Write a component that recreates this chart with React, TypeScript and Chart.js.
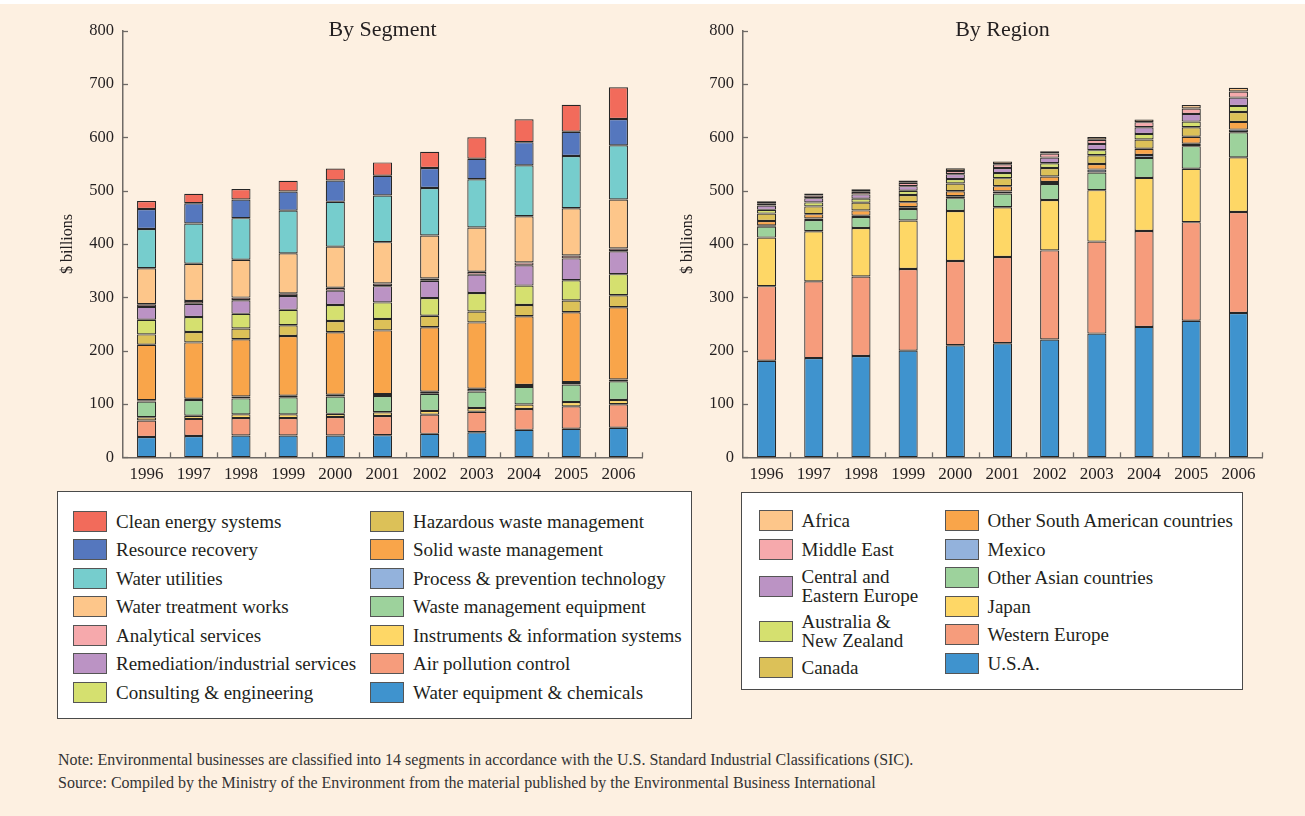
import React, { useEffect, useRef } from "react";
import { Chart, registerables } from "chart.js";
Chart.register(...registerables);

const FONT = '"Liberation Serif", "Times New Roman", serif';
const TEXT = "#231f20";
const AXIS = "#6f6a66";
const BAR_BORDER = "#262626";
const BG = "#fdf0e1";

const years = ["1996", "1997", "1998", "1999", "2000", "2001", "2002", "2003", "2004", "2005", "2006"];
const yTickValues = [0, 100, 200, 300, 400, 500, 600, 700, 800];

// ---- By Segment ($ billions), bottom of stack first ----
const waterEquipment = [38, 40, 41, 41, 41, 41.5, 44, 47, 51.5, 53.5, 55.5];
const airPollution = [31, 32, 32.5, 32.5, 34.5, 36, 36, 38.5, 39, 42, 44];
const instruments = [6, 6, 7, 7, 6, 7, 7, 7, 8.5, 8, 8];
const wasteMgmtEquipment = [29.5, 29.5, 30, 32, 32.5, 30.5, 32, 31, 33, 33, 35];
const processPrevention = [2.5, 2.5, 3.5, 3, 3.5, 3.5, 4, 5, 3.5, 4.5, 3.5];
const solidWaste = [104, 105.5, 107.5, 112, 117, 119.5, 121, 124.5, 129, 131, 135.5];
const hazardousWaste = [19.5, 19.5, 20, 20, 21, 21.5, 21.5, 20.5, 21, 22, 22.5];
const consulting = [27.5, 28, 27.5, 29, 30, 31, 33, 34.5, 36.5, 38, 39.5];
const remediation = [24, 25, 25.5, 26, 27, 30.5, 32.5, 34.5, 38, 41, 43];
const analytical = [5, 5, 5, 5, 5.5, 5, 4.5, 5.5, 5.5, 5.5, 5];
const waterTreatment = [67.5, 70, 71, 75, 77, 77.5, 80.5, 83, 86.5, 88.5, 92];
const waterUtilities = [73.5, 75.5, 78, 80, 84, 87.5, 89, 90.5, 95.5, 98, 101.5];
const resourceRecovery = [37.5, 38, 35, 36, 40, 37, 37.5, 38.5, 43.5, 45.5, 49.5];
const cleanEnergy = [15, 17.5, 19.5, 20, 22.5, 25, 30.5, 40, 43, 50.5, 59.5];

// ---- By Region ($ billions), bottom of stack first ----
const usa = [181, 186, 190, 200, 210, 214, 221, 232, 244.5, 256, 270.5];
const westernEurope = [140, 144, 149, 153, 158, 161.5, 167, 172.5, 180, 185, 189.5];
const japan = [91, 94, 91, 91, 94, 93.5, 94.5, 96.5, 99.5, 100, 102.5];
const otherAsian = [20.5, 21, 20.5, 21.5, 24, 25.5, 30, 33, 37.5, 42.5, 47];
const mexico = [2.5, 3, 2.5, 3.5, 3.5, 4, 4, 5.5, 5.5, 4.5, 5];
const otherSouthAmerican = [8, 8, 10, 9.5, 9.5, 10, 10, 10.5, 11.5, 13, 14.5];
const canada = [14, 14.5, 14.5, 13.5, 14.5, 15, 16, 16.5, 17.5, 18, 18.5];
const australiaNZ = [7, 7.5, 7.5, 8, 8.5, 9.5, 9, 9.5, 10.5, 10.5, 11.5];
const centralEasternEurope = [8, 8, 8, 8.5, 9, 9.5, 10.5, 11.5, 12.5, 14.5, 15.5];
const middleEast = [4.5, 5, 5, 6.5, 6, 7, 7.5, 8, 9.5, 10, 11.5];
const africa = [3.5, 3.5, 4.5, 4, 5, 5, 4.5, 5, 5, 6.5, 7];

type Series = { label: string; data: number[]; color: string };

const segmentSeries: Series[] = [
  { label: "Water equipment & chemicals", data: waterEquipment, color: "#3f93ce" },
  { label: "Air pollution control", data: airPollution, color: "#f69c7c" },
  { label: "Instruments & information systems", data: instruments, color: "#fed766" },
  { label: "Waste management equipment", data: wasteMgmtEquipment, color: "#9dd29c" },
  { label: "Process & prevention technology", data: processPrevention, color: "#93b2dc" },
  { label: "Solid waste management", data: solidWaste, color: "#f9a54a" },
  { label: "Hazardous waste management", data: hazardousWaste, color: "#dcc158" },
  { label: "Consulting & engineering", data: consulting, color: "#d5e06f" },
  { label: "Remediation/industrial services", data: remediation, color: "#bb93c4" },
  { label: "Analytical services", data: analytical, color: "#f6a9ac" },
  { label: "Water treatment works", data: waterTreatment, color: "#fdc68a" },
  { label: "Water utilities", data: waterUtilities, color: "#76cdcd" },
  { label: "Resource recovery", data: resourceRecovery, color: "#5577be" },
  { label: "Clean energy systems", data: cleanEnergy, color: "#f26b5b" },
];

const regionSeries: Series[] = [
  { label: "U.S.A.", data: usa, color: "#3f93ce" },
  { label: "Western Europe", data: westernEurope, color: "#f69c7c" },
  { label: "Japan", data: japan, color: "#fed766" },
  { label: "Other Asian countries", data: otherAsian, color: "#9dd29c" },
  { label: "Mexico", data: mexico, color: "#93b2dc" },
  { label: "Other South American countries", data: otherSouthAmerican, color: "#f9a54a" },
  { label: "Canada", data: canada, color: "#dcc158" },
  { label: "Australia &\nNew Zealand", data: australiaNZ, color: "#d5e06f" },
  { label: "Central and\nEastern Europe", data: centralEasternEurope, color: "#bb93c4" },
  { label: "Middle East", data: middleEast, color: "#f6a9ac" },
  { label: "Africa", data: africa, color: "#fdc68a" },
];

const decorPlugin = {
  id: "decor",
  afterDraw(chart: any, _args: any, opts: any) {
    const { ctx, chartArea, scales } = chart;
    const x = scales.x;
    const y = scales.y;
    ctx.save();
    ctx.strokeStyle = AXIS;
    ctx.lineWidth = 1.3;
    y.ticks.forEach((_t: any, i: number) => {
      const py = Math.round(y.getPixelForTick(i)) + 0.5;
      ctx.beginPath();
      ctx.moveTo(chartArea.left, py);
      ctx.lineTo(chartArea.left + 5, py);
      ctx.stroke();
    });
    const n = x.ticks.length;
    const w = (chartArea.right - chartArea.left) / n;
    for (let k = 1; k <= n; k++) {
      const px = Math.round(chartArea.left + k * w) + 0.5;
      ctx.beginPath();
      ctx.moveTo(px, chartArea.bottom);
      ctx.lineTo(px, chartArea.bottom - 5);
      ctx.stroke();
    }
    ctx.fillStyle = TEXT;
    ctx.font = `22px ${FONT}`;
    ctx.textAlign = "center";
    ctx.textBaseline = "alphabetic";
    ctx.fillText(opts.text, (chartArea.left + chartArea.right) / 2, chartArea.top + 5);
    ctx.restore();
  },
};

type ChartProps = {
  left: number;
  width: number;
  height: number;
  series: Series[];
  title: string;
  yAxisWidth: number;
  rightPad: number;
  yTitlePad: number;
};

function StackedChart({ left, width, height, series, title, yAxisWidth, rightPad, yTitlePad }: ChartProps) {
  const ref = useRef<HTMLCanvasElement>(null);
  useEffect(() => {
    const chart = new Chart(ref.current as HTMLCanvasElement, {
      type: "bar",
      data: {
        labels: years,
        datasets: series.map((s) => ({
          label: s.label,
          data: s.data,
          backgroundColor: s.color,
          borderColor: BAR_BORDER,
          borderWidth: 1.2,
          borderSkipped: false,
          barPercentage: 0.405,
          categoryPercentage: 1,
        })),
      },
      options: {
        responsive: false,
        animation: false,
        devicePixelRatio: 1,
        layout: { padding: { top: 30.7, right: rightPad, bottom: 0, left: 0 } },
        plugins: {
          legend: { display: false },
          tooltip: { enabled: false },
          decor: { text: title },
        } as any,
        scales: {
          x: {
            stacked: true,
            grid: { display: false, drawTicks: false },
            border: { display: true, color: AXIS, width: 1.5 },
            ticks: { color: TEXT, font: { family: FONT, size: 17 }, padding: 7, maxRotation: 0 },
            afterFit: (s: any) => {
              s.height = height - 457.3;
            },
          },
          y: {
            stacked: true,
            min: 0,
            max: 800,
            afterBuildTicks: (s: any) => {
              s.ticks = yTickValues.map((v) => ({ value: v }));
            },
            ticks: { color: TEXT, font: { family: FONT, size: 16.5 }, padding: 9 },
            grid: { display: false, drawTicks: false },
            border: { display: true, color: AXIS, width: 1.5 },
            title: {
              display: true,
              text: "$ billions",
              color: TEXT,
              font: { family: FONT, size: 16 },
              padding: { top: yTitlePad, bottom: 0 },
            },
            afterFit: (s: any) => {
              s.width = yAxisWidth;
            },
          },
        },
      },
      plugins: [decorPlugin],
    } as any);
    return () => chart.destroy();
  }, []);
  return <canvas ref={ref} width={width} height={height} style={{ position: "absolute", left, top: 0 }} />;
}

type LegendProps = {
  left: number;
  top: number;
  width: number;
  height: number;
  columns: Series[][];
  colLefts: number[];
  padTop: number;
};

function LegendBox({ left, top, width, height, columns, colLefts, padTop }: LegendProps) {
  return (
    <div
      style={{
        position: "absolute",
        left,
        top,
        width,
        height,
        boxSizing: "border-box",
        background: "#ffffff",
        border: "1.5px solid #4a4a4a",
      }}
    >
      {columns.map((col, ci) => (
        <div key={ci} style={{ position: "absolute", left: colLefts[ci], top: padTop }}>
          {col.map((s) => {
            const twoLines = s.label.includes("\n");
            return (
              <div
                key={s.label}
                style={{ display: "flex", alignItems: "center", height: twoLines ? 45 : 28.5 }}
              >
                <div
                  style={{
                    width: 34,
                    height: 21,
                    boxSizing: "border-box",
                    background: s.color,
                    border: "1px solid #555",
                    marginRight: 9,
                    flex: "none",
                  }}
                />
                <div
                  style={{
                    fontFamily: FONT,
                    fontSize: 19,
                    color: TEXT,
                    whiteSpace: "pre-line",
                    lineHeight: "19px",
                  }}
                >
                  {s.label}
                </div>
              </div>
            );
          })}
        </div>
      ))}
    </div>
  );
}

const noteText =
  "Note: Environmental businesses are classified into 14 segments in accordance with the U.S. Standard Industrial Classifications (SIC).";
const sourceText =
  "Source: Compiled by the Ministry of the Environment from the material published by the Environmental Business International";

export default function App() {
  useEffect(() => {
    document.body.style.margin = "0";
  }, []);
  const segLegend = [...segmentSeries].reverse();
  const regLegend = [...regionSeries].reverse();
  return (
    <div
      style={{
        position: "absolute",
        left: 0,
        top: 0,
        width: 1305,
        height: 816,
        background: "#ffffff",
        overflow: "hidden",
      }}
    >
      <div style={{ position: "absolute", left: 0, top: 4, width: 1305, height: 812, background: BG }} />
      <StackedChart
        left={0}
        width={660}
        height={490}
        series={segmentSeries}
        title="By Segment"
        yAxisWidth={123}
        rightPad={18}
        yTitlePad={58.4}
      />
      <StackedChart
        left={660}
        width={620}
        height={490}
        series={regionSeries}
        title="By Region"
        yAxisWidth={83}
        rightPad={18}
        yTitlePad={18.4}
      />
      <LegendBox
        left={57}
        top={491}
        width={635}
        height={228}
        columns={[segLegend.slice(0, 7), segLegend.slice(7)]}
        colLefts={[15, 312]}
        padTop={15}
      />
      <LegendBox
        left={741}
        top={492}
        width={502}
        height={198}
        columns={[regLegend.slice(0, 5), regLegend.slice(5)]}
        colLefts={[16.5, 202.5]}
        padTop={13.5}
      />
      <div
        style={{
          position: "absolute",
          left: 58,
          top: 748,
          fontFamily: FONT,
          fontSize: 16,
          color: "#333",
          lineHeight: "23px",
          whiteSpace: "nowrap",
        }}
      >
        <div>{noteText}</div>
        <div>{sourceText}</div>
      </div>
    </div>
  );
}
